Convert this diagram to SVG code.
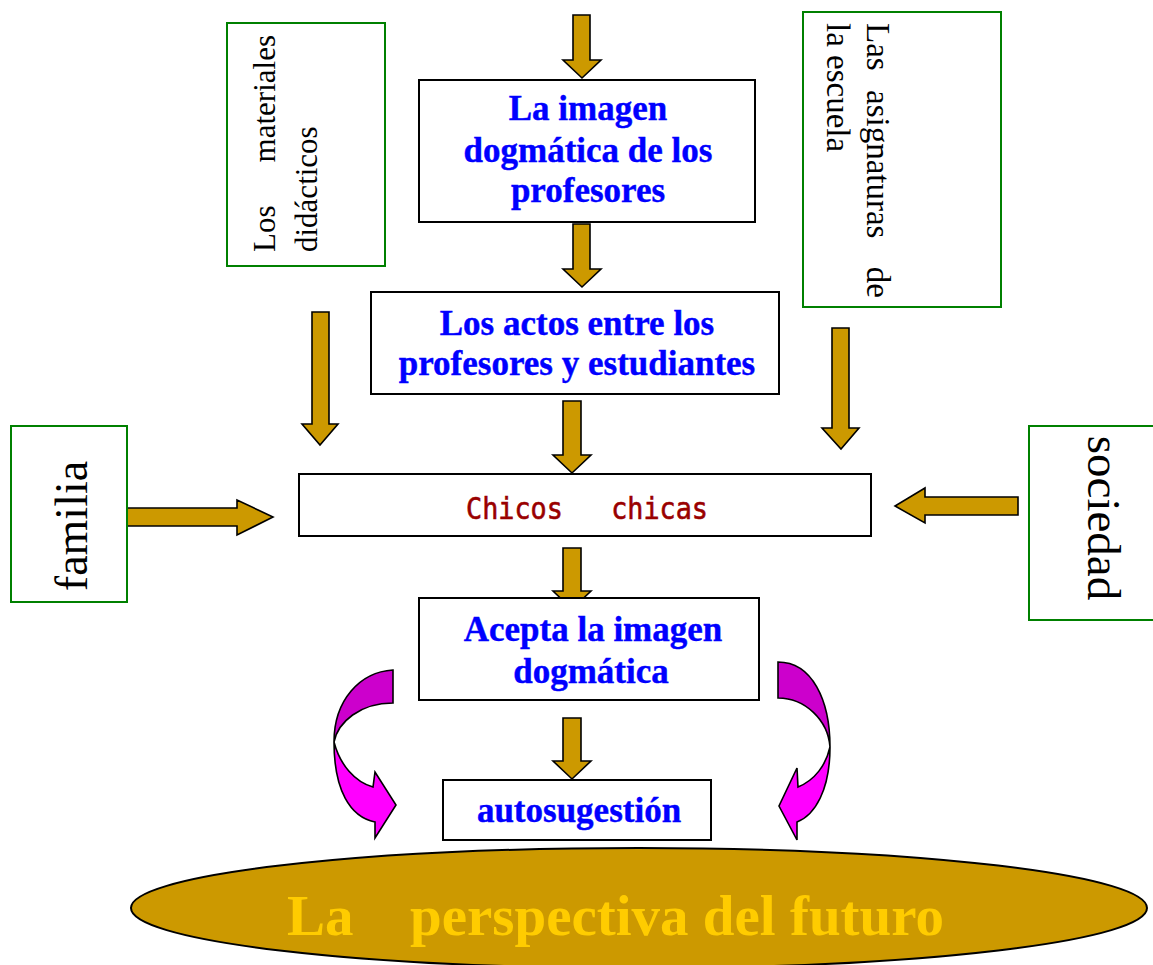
<svg xmlns="http://www.w3.org/2000/svg" width="1153" height="965" viewBox="0 0 1153 965">
<style>
.gbox{fill:#fff;stroke:#008000;stroke-width:2}
.kbox{fill:#fff;stroke:#000;stroke-width:2}
.arr{fill:#CC9900;stroke:#000;stroke-width:1.6;stroke-linejoin:miter}
.dark{fill:#CC00CC;stroke:#000;stroke-width:1.6}
.light{fill:#FF00FF;stroke:#000;stroke-width:1.6}
.side{font-family:"Liberation Serif","Times New Roman",serif;fill:#000}
.main{font-family:"Liberation Serif","Times New Roman",serif;font-weight:bold;font-size:35px;fill:#0000FF;text-anchor:middle;stroke:#0000FF;stroke-width:0.4}
</style>
<rect width="1153" height="965" fill="#fff"/>

<g id="connectors">
  <path class="arr" d="M573,15 H590 V60 H601 L582,78 L563,60 H573 Z"/>
  <path class="arr" d="M573,224 H590 V269 H601 L582,287 L563,269 H573 Z"/>
  <path class="arr" d="M563,401 H581 V455 H591 L572,473 L553,455 H563 Z"/>
  <path class="arr" d="M312,312 H329 V424 H338 L320,445 L302,424 H312 Z"/>
  <path class="arr" d="M832,328 H849 V428 H859 L841,449 L822,428 H832 Z"/>
  <path class="arr" d="M563,548 H581 V591 H591 L572,609 L553,591 H563 Z"/>
  <path class="arr" d="M563,718 H581 V761 H591 L572,779 L553,761 H563 Z"/>
  <path class="arr" d="M127,508 H237 V500 L273,517 L237,535 V526 H127 Z"/>
  <path class="arr" d="M1018,497 H925 V488 L895,506 L925,523 V515 H1018 Z"/>
  <path class="dark" d="M393,670 C360,672 334,700 334,742 C338,722 360,703 393,703 Z"/>
  <path class="light" d="M334,742 C340,765 355,782 373,787 L375,772 L396,805 L375,838 L375,822 C350,817 334,790 334,742 Z"/>
  <path class="dark" d="M778,662 C812,662 830,700 830,747 C828,720 805,698 778,698 Z"/>
  <path class="light" d="M830,747 C830,790 815,815 797,822 L797,840 L779,806 L797,768 L798,787 C815,780 826,765 830,747 Z"/>
</g>

<g id="materiales">
  <rect class="gbox" x="227" y="23" width="158" height="243"/>
  <g class="side" font-size="31" transform="translate(275,252) rotate(-90)">
    <text x="0" y="0">Los</text>
    <text x="217" y="0" text-anchor="end">materiales</text>
    <text x="0" y="42">didácticos</text>
  </g>
</g>

<g id="asignaturas">
  <rect class="gbox" x="803" y="12" width="198" height="295"/>
  <g class="side" font-size="33" transform="translate(867,23) rotate(90)">
    <text x="0" y="0">Las</text>
    <text x="67" y="0">asignaturas</text>
    <text x="275" y="0" text-anchor="end">de</text>
    <text x="0" y="40">la escuela</text>
  </g>
</g>

<g id="imagen">
  <rect class="kbox" x="419" y="80" width="336" height="142"/>
  <text class="main" x="588" y="120">La imagen</text>
  <text class="main" x="588" y="162">dogmática de los</text>
  <text class="main" x="588" y="202">profesores</text>
</g>

<g id="actos">
  <rect class="kbox" x="371" y="292" width="408" height="102"/>
  <text class="main" x="577" y="335">Los actos entre los</text>
  <text class="main" x="577" y="375">profesores y estudiantes</text>
</g>

<g id="familia">
  <rect class="gbox" x="11" y="426" width="116" height="176"/>
  <text class="side" font-size="46" text-anchor="middle" transform="translate(87,526) rotate(-90)">familia</text>
</g>

<g id="sociedad">
  <rect class="gbox" x="1029" y="426" width="130" height="194"/>
  <text class="side" font-size="47" text-anchor="middle" transform="translate(1088,518) rotate(90)">sociedad</text>
</g>

<g id="chicos">
  <rect class="kbox" x="299" y="474" width="572" height="62"/>
  <text x="466" y="519" xml:space="preserve" textLength="242" lengthAdjust="spacingAndGlyphs" font-family="'DejaVu Sans Mono',monospace" font-size="30" fill="#990000" stroke="#990000" stroke-width="0.6">Chicos   chicas</text>
</g>

<g id="acepta">
  <rect class="kbox" x="419" y="598" width="340" height="102"/>
  <text class="main" x="593" y="641">Acepta la imagen</text>
  <text class="main" x="591" y="683">dogmática</text>
</g>

<g id="autosugestion">
  <rect class="kbox" x="443" y="780" width="268" height="60"/>
  <text class="main" x="579" y="822">autosugestión</text>
</g>

<g id="perspectiva">
  <ellipse cx="639" cy="908" rx="508" ry="60" fill="#CC9900" stroke="#000" stroke-width="2"/>
  <text x="287" y="935" font-family="'Liberation Serif','Times New Roman',serif" font-weight="bold" font-size="57" fill="#FFCC00">La</text>
  <text x="410" y="935" font-family="'Liberation Serif','Times New Roman',serif" font-weight="bold" font-size="57" fill="#FFCC00">perspectiva del futuro</text>
</g>
</svg>
